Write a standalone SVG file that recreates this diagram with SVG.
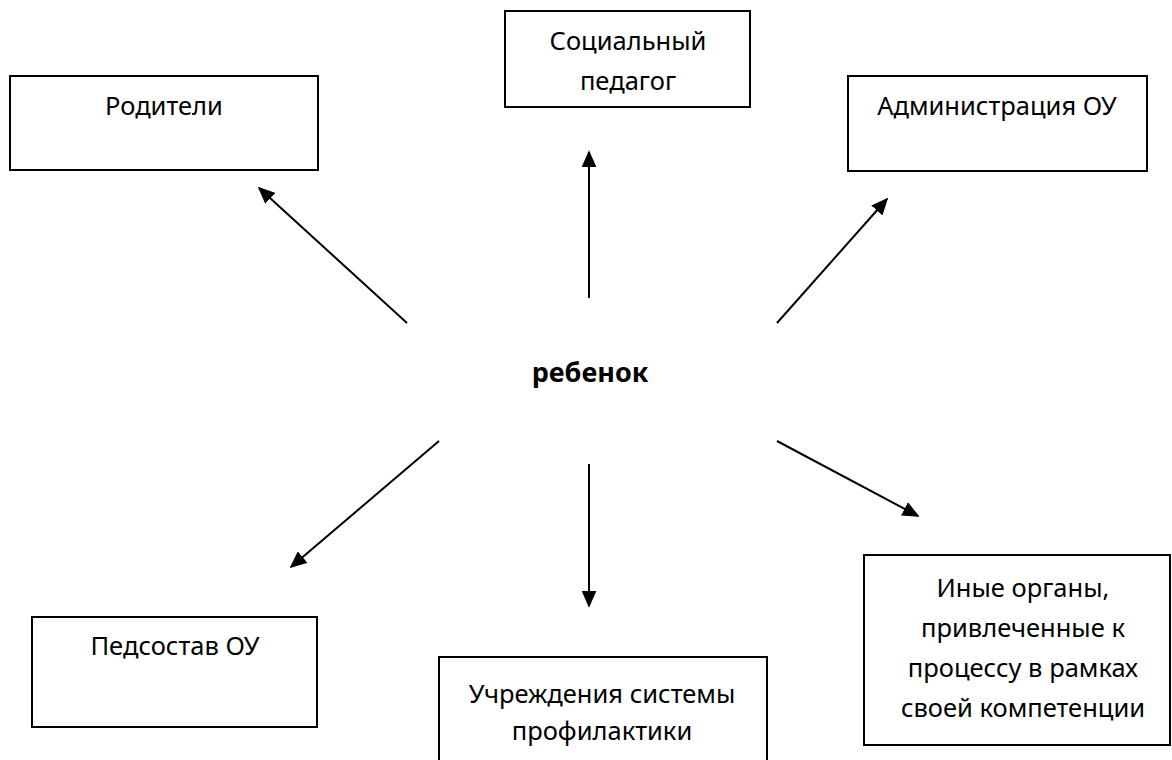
<svg xmlns="http://www.w3.org/2000/svg" width="1172" height="760" viewBox="0 0 1172 760">
<style>
.box{fill:#fff;stroke:#000;stroke-width:2}
.t{font-family:"Noto Sans","Open Sans",sans-serif;font-size:25.5px;fill:#000;text-anchor:middle}
.b{font-weight:bold;font-size:27px}
.c{stroke:#000;stroke-width:2;fill:none;marker-end:url(#ah)}
</style>
<defs>
<marker id="ah" viewBox="0 0 10 10" refX="9" refY="5" markerWidth="17" markerHeight="15" markerUnits="userSpaceOnUse" orient="auto" preserveAspectRatio="none">
<path d="M0,0 L10,5 L0,10 z" fill="#000"/>
</marker>
</defs>
<rect width="1172" height="760" fill="#fff"/>
<g id="n-roditeli"><rect class="box" x="10" y="76" width="308" height="94"/><text class="t" x="164" y="115">Родители</text></g>
<g id="n-socped"><rect class="box" x="505" y="11" width="245" height="96"/><text class="t" x="628" y="50">Социальный</text><text class="t" x="628" y="90">педагог</text></g>
<g id="n-admin"><rect class="box" x="848" y="76" width="299" height="95"/><text class="t" x="997" y="115">Администрация ОУ</text></g>
<g id="n-center"><text class="t b" x="590" y="382">ребенок</text></g>
<g id="n-pedsostav"><rect class="box" x="32" y="617" width="285" height="110"/><text class="t" x="175" y="655">Педсостав ОУ</text></g>
<g id="n-uchrezhd"><rect class="box" x="439" y="657" width="328" height="120"/><text class="t" x="602" y="703">Учреждения системы</text><text class="t" x="602" y="740">профилактики</text></g>
<g id="n-inye"><rect class="box" x="864" y="555" width="306" height="190"/><text class="t" x="1023" y="597">Иные органы,</text><text class="t" x="1023" y="637">привлеченные к</text><text class="t" x="1023" y="677">процессу в рамках</text><text class="t" x="1023" y="717">своей компетенции</text></g>
<g id="connectors">
<line class="c" x1="407" y1="323" x2="259" y2="188"/>
<line class="c" x1="589" y1="298" x2="589" y2="152"/>
<line class="c" x1="777" y1="323" x2="887" y2="199"/>
<line class="c" x1="439" y1="441" x2="291" y2="567"/>
<line class="c" x1="589" y1="464" x2="589" y2="606"/>
<line class="c" x1="777" y1="441" x2="918" y2="516"/>
</g>
</svg>
